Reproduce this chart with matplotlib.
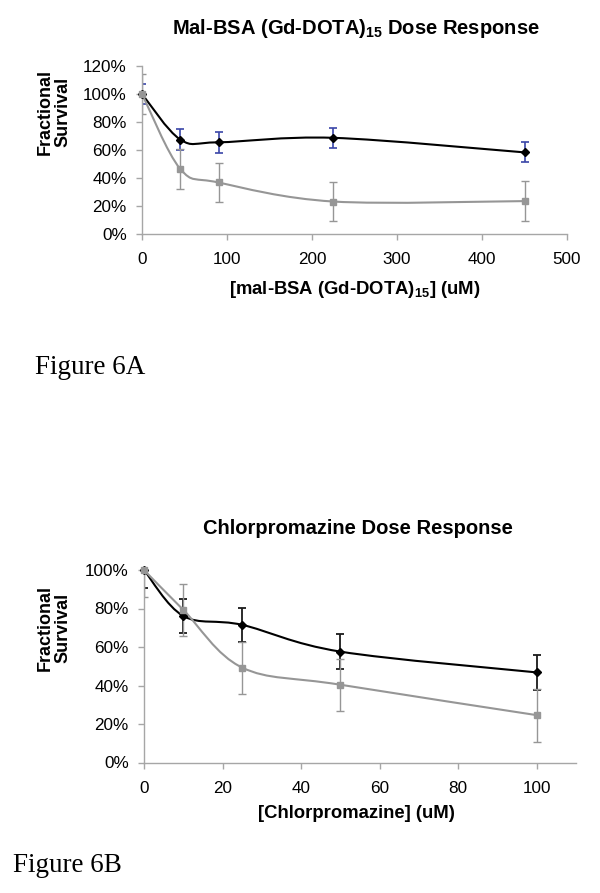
import matplotlib
matplotlib.use("Agg")
import matplotlib.pyplot as plt
from matplotlib.path import Path
from matplotlib.patches import PathPatch
from matplotlib.ticker import FuncFormatter
import numpy as np

plt.rcParams['font.family'] = ['Liberation Sans', 'DejaVu Sans']
plt.rcParams['mathtext.fontset'] = 'custom'
plt.rcParams['mathtext.rm'] = 'Liberation Sans'
plt.rcParams['mathtext.bf'] = 'Liberation Sans:bold'

# ---- Data: Figure 6A ----
a_x = [0, 45, 90, 225, 450]
a_black = [100, 67.5, 65.5, 68.7, 58.3]
a_black_err = [7.0, 7.2, 7.3, 7.3, 7.2]
a_gray = [100, 46.5, 36.8, 23.2, 23.5]
a_gray_err = [14.3, 14.3, 14.2, 14.0, 14.3]
a_xticks = [0, 100, 200, 300, 400, 500]
a_yticks = [0, 20, 40, 60, 80, 100, 120]

# ---- Data: Figure 6B ----
b_x = [0, 10, 25, 50, 100]
b_black = [100, 76.1, 71.5, 57.6, 46.8]
b_black_err = [9.3, 9.0, 8.8, 9.0, 9.0]
b_gray = [100, 79.3, 49.3, 40.4, 24.6]
b_gray_err = [13.8, 13.5, 13.5, 13.6, 13.8]
b_xticks = [0, 20, 40, 60, 80, 100]
b_yticks = [0, 20, 40, 60, 80, 100]

W, H = 600, 893
fig = plt.figure(figsize=(W / 100, H / 100), dpi=100)

AXIS_GRAY = '#a6a6a6'
GRAY = '#969696'
BLUE = '#3a46a8'


def px_axes(left, right, top, bottom):
    return fig.add_axes([left / W, 1 - bottom / H, (right - left) / W, (bottom - top) / H])


def smooth_path(xs, ys):
    # Excel-style smoothed line: cubic Bezier through data points
    pts = np.column_stack([xs, ys]).astype(float)
    n = len(pts)
    verts = [pts[0]]
    codes = [Path.MOVETO]
    for i in range(n - 1):
        p0 = pts[i - 1] if i > 0 else pts[i]
        p1 = pts[i]
        p2 = pts[i + 1]
        p3 = pts[i + 2] if i + 2 < n else pts[i + 1]
        c1 = p1 + (p2 - p0) / 6.0
        c2 = p2 - (p3 - p1) / 6.0
        verts += [c1, c2, p2]
        codes += [Path.CURVE4] * 3
    return Path(verts, codes)


def draw_series(ax, xs, ys, errs, color, ecolor, marker, ms, elw):
    yv = [v / 100 for v in ys]
    ev = [e / 100 for e in errs]
    ax.errorbar(xs, yv, yerr=ev, fmt='none', ecolor=ecolor, elinewidth=elw,
                capsize=3, capthick=elw, zorder=2)
    patch = PathPatch(smooth_path(xs, yv), facecolor='none', edgecolor=color,
                      lw=1.5, zorder=3, clip_on=False)
    ax.add_patch(patch)
    ax.plot(xs, yv, linestyle='none', marker=marker, ms=ms, color=color,
            markeredgecolor=color, zorder=4, clip_on=False)


def style_axes(ax, xlim, xticks, ylim, yticks):
    ax.set_xlim(*xlim)
    ax.set_ylim(*ylim)
    ax.set_xticks(xticks)
    ax.set_yticks([t / 100 for t in yticks])
    ax.yaxis.set_major_formatter(FuncFormatter(lambda v, p: f"{v * 100:.0f}%"))
    for s in ['top', 'right']:
        ax.spines[s].set_visible(False)
    for s in ['left', 'bottom']:
        ax.spines[s].set_color(AXIS_GRAY)
        ax.spines[s].set_linewidth(1.0)
    ax.tick_params(axis='both', direction='out', length=4, width=1.0, color=AXIS_GRAY,
                   labelsize=12.3, labelcolor='black')
    ax.tick_params(axis='x', pad=9)
    ax.tick_params(axis='y', pad=7)
    ax.patch.set_alpha(0)


TITLE_FS = 14.5
LABEL_FS = 13.3

# ---- Chart A ----
axA = px_axes(142, 567, 66, 234)
style_axes(axA, (0, 500), a_xticks, (0, 1.2), a_yticks)
draw_series(axA, a_x, a_black, a_black_err, 'black', BLUE, 'D', 4, 1.2)
draw_series(axA, a_x, a_gray, a_gray_err, GRAY, GRAY, 's', 4.5, 1.0)

fig.text(356 / W, 1 - 29 / H, r'Mal-BSA (Gd-DOTA)$_{\mathbf{15}}$ Dose Response',
         ha='center', va='center', fontsize=TITLE_FS, fontweight='bold')
fig.text(355 / W, 1 - 290 / H, r'[mal-BSA (Gd-DOTA)$_{\mathbf{15}}$] (uM)',
         ha='center', va='center', fontsize=LABEL_FS, fontweight='bold')
fig.text(54 / W, 1 - 112 / H, 'Fractional\nSurvival', rotation=90, ha='center',
         va='center', fontsize=13, fontweight='bold', linespacing=1.05, multialignment='center')
fig.text(35 / W, 1 - 374 / H, 'Figure 6A', ha='left', va='baseline', fontsize=19.5,
         family=['Liberation Serif', 'DejaVu Serif'])

# ---- Chart B ----
axB = px_axes(144, 576, 570, 762.5)
style_axes(axB, (0, 110), b_xticks, (0, 1.0), b_yticks)
draw_series(axB, b_x, b_black, b_black_err, 'black', '#1a1a1a', 'D', 4, 1.3)
draw_series(axB, b_x, b_gray, b_gray_err, GRAY, GRAY, 's', 4.5, 1.0)

fig.text(358 / W, 1 - 529 / H, 'Chlorpromazine Dose Response',
         ha='center', va='center', fontsize=TITLE_FS, fontweight='bold')
fig.text(356 / W, 1 - 813 / H, '[Chlorpromazine] (uM)',
         ha='center', va='center', fontsize=LABEL_FS, fontweight='bold')
fig.text(54 / W, 1 - 628 / H, 'Fractional\nSurvival', rotation=90, ha='center',
         va='center', fontsize=13, fontweight='bold', linespacing=1.05, multialignment='center')
fig.text(13 / W, 1 - 872 / H, 'Figure 6B', ha='left', va='baseline', fontsize=19.5,
         family=['Liberation Serif', 'DejaVu Serif'])

fig.savefig('out.png', dpi=100, facecolor='white')
